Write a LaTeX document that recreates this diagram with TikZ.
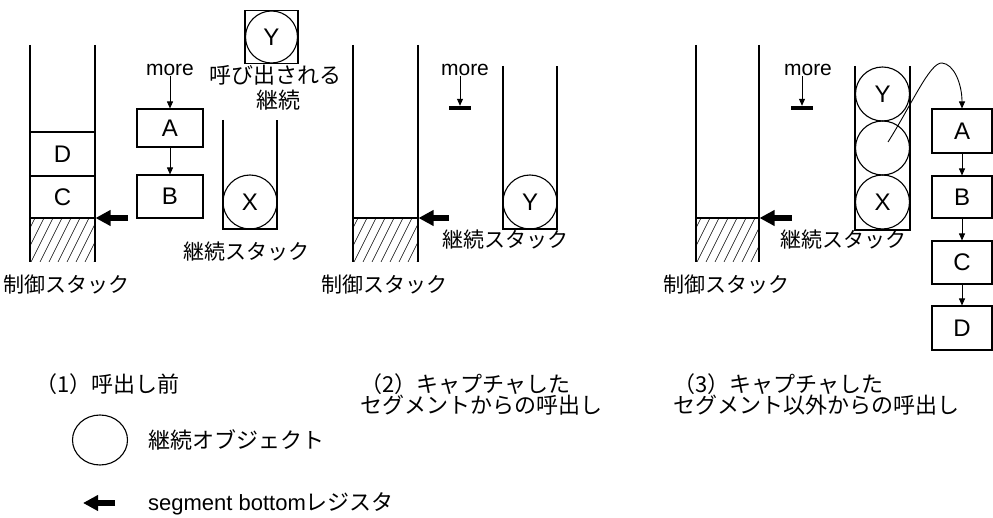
\documentclass[tikz,border=0pt]{standalone}
\usepackage{fontspec}
\setmainfont{Liberation Sans}
\newfontfamily\jp{Noto Sans CJK JP}
\usetikzlibrary{arrows.meta,shapes.geometric}
\begin{document}
\begin{tikzpicture}[x=1pt,y=-1pt,
  box/.style={draw, line width=1.1pt, inner sep=0pt, font=\fontsize{24}{24}\selectfont},
  obj/.style={draw, circle, line width=1.1pt, minimum size=54pt, inner sep=0pt, font=\fontsize{24}{24}\selectfont},
  lbl/.style={font=\jp\fontsize{21}{21}\selectfont, inner sep=0pt},
  captxt/.style={font=\jp\fontsize{22}{20}\selectfont, align=left, inner sep=0pt, anchor=north west},
  moretext/.style={font=\fontsize{21}{21}\selectfont, inner sep=0pt},
  thinarrow/.style={line width=0.9pt, -{Triangle[length=7pt,width=6pt]}},
  segarrow/.style={line width=6pt, -{Triangle[length=15pt,width=15pt]}},
  stackline/.style={line width=1.3pt},
  hatchline/.style={line width=0.6pt},
  barstyle/.style={fill, minimum width=22pt, minimum height=4pt, inner sep=0pt},
]
\useasboundingbox (0,0) rectangle (993,518);

% ===== Panel 1 =====
\draw[stackline] (30,45) -- (30,262);
\draw[stackline] (95,45) -- (95,262);
\node[box, minimum width=65pt, minimum height=44pt] (D1) at (62.5,154) {D};
\node[box, minimum width=65pt, minimum height=42pt] (C1) at (62.5,197) {C};
\begin{scope}
  \clip (30,218) rectangle (95,262);
  \foreach \i in {-4,...,8} \draw[hatchline] ({30+9*\i},264) -- ++(24,-48);
\end{scope}
\coordinate (sbt1) at (128,218);
\coordinate (sbh1) at (95.5,218);
\draw[segarrow] (sbt1) -- (sbh1);

\node[moretext] (more1) at (170,70) {more};
\node[box, minimum width=66pt, minimum height=38pt] (A1) at (170,128) {A};
\node[box, minimum width=66pt, minimum height=43pt] (B1) at (170,196.5) {B};
\draw[thinarrow] (more1.south) -- (A1.north);
\draw[thinarrow] (A1.south) -- (B1.north);

\node[draw, line width=1.1pt, minimum size=53pt, inner sep=0pt] (Ybox) at (271.5,37) {};
\node[obj, minimum size=52pt] (Y1) at (Ybox.center) {Y};
\node[lbl, font=\jp\fontsize{22}{22}\selectfont] (yl1) at (275,75) {呼び出される};
\node[lbl, font=\jp\fontsize{22}{22}\selectfont] (yl2) at (278,100) {継続};

\draw[stackline] (223,120) -- (223,229) -- (277,229) -- (277,120);
\node[obj] (X1) at (250,202) {X};
\node[lbl] (ks1) at (246,252) {継続スタック};
\node[lbl] (cs1) at (67,285) {制御スタック};

% ===== Panel 2 =====
\draw[stackline] (353,45) -- (353,262);
\draw[stackline] (418,45) -- (418,262);
\draw[line width=1.1pt] (353,218) -- (418,218);
\begin{scope}
  \clip (353,218) rectangle (418,262);
  \foreach \i in {-4,...,8} \draw[hatchline] ({353+9*\i},264) -- ++(24,-48);
\end{scope}
\coordinate (sbt2) at (449,218);
\coordinate (sbh2) at (418.5,218);
\draw[segarrow] (sbt2) -- (sbh2);

\node[moretext] (more2) at (465,70) {more};
\node[barstyle] (bar2) at (460,108) {};
\draw[thinarrow] (more2.south -| bar2.north) -- (bar2.north);

\draw[stackline] (503,66) -- (503,229) -- (557,229) -- (557,66);
\node[obj] (Y2) at (530,202) {Y};
\node[lbl] (ks2) at (505,240) {継続スタック};
\node[lbl] (cs2) at (384,285) {制御スタック};

% ===== Panel 3 =====
\draw[stackline] (696,45) -- (696,262);
\draw[stackline] (759,45) -- (759,262);
\draw[line width=1.1pt] (696,218) -- (759,218);
\begin{scope}
  \clip (696,218) rectangle (759,262);
  \foreach \i in {-4,...,8} \draw[hatchline] ({696+9*\i},264) -- ++(24,-48);
\end{scope}
\coordinate (sbt3) at (792,218);
\coordinate (sbh3) at (759.5,218);
\draw[segarrow] (sbt3) -- (sbh3);

\node[moretext] (more3) at (808,70) {more};
\node[barstyle] (bar3) at (802,108) {};
\draw[thinarrow] (more3.south -| bar3.north) -- (bar3.north);

\draw[stackline] (855,66) -- (855,230) -- (910,230) -- (910,66);
\node[obj] (Y3) at (882.5,94) {Y};
\node[obj] (M3) at (882.5,148) {};
\node[obj] (X3) at (882.5,202) {X};

\node[box, minimum width=60pt, minimum height=44pt] (A3) at (962,131) {A};
\node[box, minimum width=60pt, minimum height=42pt] (B3) at (962,197) {B};
\node[box, minimum width=60pt, minimum height=43pt] (C3) at (962,262.5) {C};
\node[box, minimum width=60pt, minimum height=44pt] (D3) at (962,328) {D};
\draw[thinarrow] (A3.south) -- (B3.north);
\draw[thinarrow] (B3.south) -- (C3.north);
\draw[thinarrow] (C3.south) -- (D3.north);

\coordinate (cstart) at (888,142);
\draw[thinarrow] (cstart) .. controls (912,104) and (930,62) .. (942,63)
  .. controls (954,64) and (962,84) .. (A3.north);

\node[lbl] (ks3) at (843,240) {継続スタック};
\node[lbl] (cs3) at (726,285) {制御スタック};

% ===== Captions =====
\node[captxt] (cap1) at (35,373) {（1）呼出し前};
\node[captxt] (cap2) at (360,373) {（2）キャプチャした\\セグメントからの呼出し};
\node[captxt] (cap3) at (673,373) {（3）キャプチャした\\セグメント以外からの呼出し};

% ===== Legend =====
\node[draw, ellipse, line width=1.1pt, minimum width=55pt, minimum height=50pt, inner sep=0pt] (leg) at (100,440) {};
\node[lbl, font=\jp\fontsize{22}{22}\selectfont, anchor=west] (legt) at (148,440) {継続オブジェクト};
\coordinate (lgt) at (115,503);
\coordinate (lgh) at (83,503);
\draw[segarrow] (lgt) -- (lgh);
\node[inner sep=0pt, anchor=west, font=\fontsize{22}{22}\selectfont] (segt) at (148,504) {segment bottom{\jp レジスタ}};
\end{tikzpicture}
\end{document}
